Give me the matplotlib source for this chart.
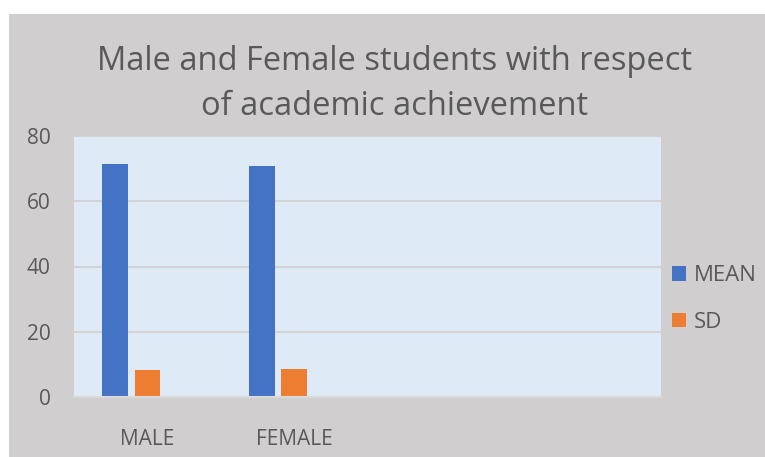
import numpy as np
import matplotlib.pyplot as plt
from matplotlib.patches import Rectangle, Patch

# ── Data ─────────────────────────────────────────────
categories = ['MALE', 'FEMALE', '', '']
mean_vals = [71.3, 70.8]
sd_vals = [8.3, 8.6]
y_ticks = [0, 20, 40, 60, 80]

# ── Style ────────────────────────────────────────────
BG = '#d0cece'
PLOT_BG = '#deeaf6'
GRID = '#d3d3d3'
TEXT = '#595959'
BLUE = '#4472c4'
ORANGE = '#ed7d31'
FONT = 'Open Sans'

W, H = 765, 457
fig = plt.figure(figsize=(W / 100, H / 100), dpi=100, facecolor='white')

# grey chart area (white strip on top and left like the screenshot)
fig.patches.append(Rectangle((9 / W, 0), 1, 1 - 14 / H, transform=fig.transFigure,
                             facecolor=BG, edgecolor='none', zorder=-5))

fig.text(395 / W, 1 - 84 / H,
         'Male and Female students with respect\nof academic achievement',
         ha='center', va='center', fontsize=23.5, color=TEXT, family=FONT,
         linespacing=1.47)

ax = fig.add_axes([74 / W, 60 / H, 587 / W, 261 / H])
ax.set_zorder(2)
ax.set_facecolor(PLOT_BG)

x = np.arange(len(mean_vals))
slot = 0.2202   # three slots per category, the third one is empty
width = 0.1745
ax.bar(x - slot, mean_vals, width=width, color=BLUE, zorder=3, label='MEAN')
ax.bar(x, sd_vals, width=width, color=ORANGE, zorder=3, label='SD')

ax.set_xlim(-0.5, len(categories) - 0.5)
ax.set_ylim(0, 80)
ax.set_yticks(y_ticks)
ax.set_xticks(np.arange(len(categories)))
ax.set_xticklabels(categories)
ax.grid(axis='y', color=GRID, linewidth=1.5, zorder=1)
for s in ['top', 'right', 'left']:
    ax.spines[s].set_visible(False)
ax.spines['bottom'].set_color('#d9d9d9')
ax.spines['bottom'].set_linewidth(1.5)
ax.spines['bottom'].set_zorder(4)
ax.tick_params(axis='y', length=0, pad=17, labelsize=15, labelcolor=TEXT)
ax.tick_params(axis='x', length=0, pad=23, labelsize=15, labelcolor=TEXT)
for lab in ax.get_xticklabels() + ax.get_yticklabels():
    lab.set_family(FONT)

handles = [Patch(facecolor=BLUE, label='MEAN'), Patch(facecolor=ORANGE, label='SD')]
fig.legend(handles=handles, loc='center left', bbox_to_anchor=(652 / W, 1 - 299 / H),
           frameon=False, handlelength=0.62, handleheight=0.62, handletextpad=0.35,
           labelspacing=1.15, prop={'family': FONT, 'size': 16}, labelcolor=TEXT)

fig.savefig('out.png', dpi=100, facecolor='white')
